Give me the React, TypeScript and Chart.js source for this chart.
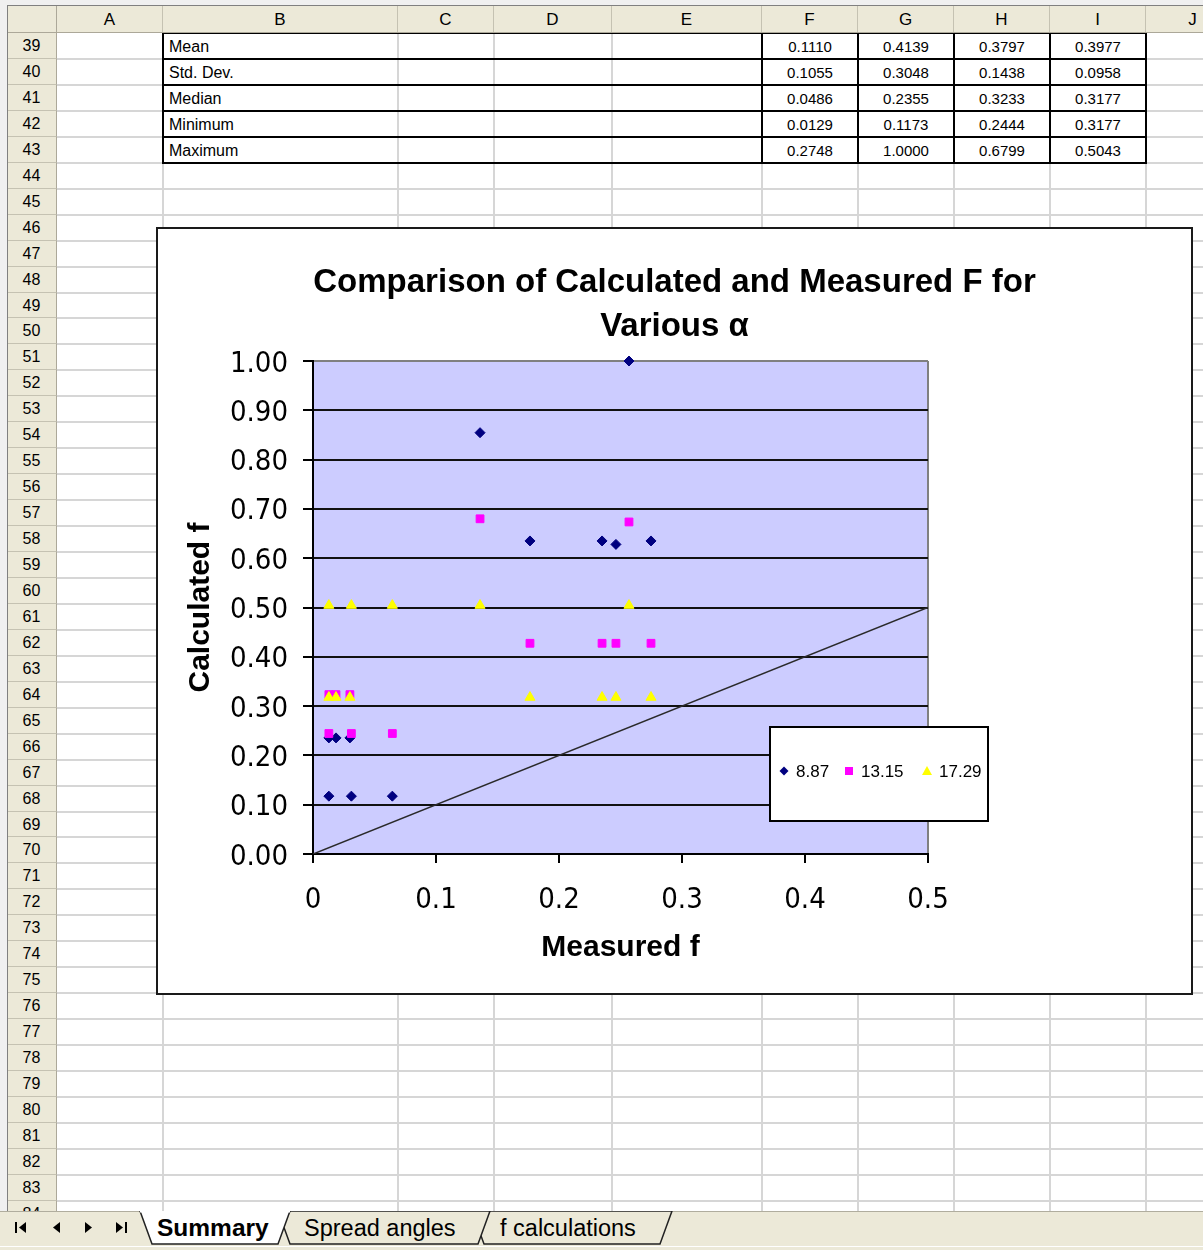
import React, { useEffect, useRef } from "react";
import { Chart, registerables } from "chart.js";

Chart.register(...registerables);

// ---------- chart data ----------
const seriesLabels = ["8.87", "13.15", "17.29"];
const measured887 = [0.0129, 0.0312, 0.0645, 0.0129, 0.0187, 0.03, 0.1358, 0.1764, 0.235, 0.2463, 0.2569, 0.2748];
const calculated887 = [0.1173, 0.1173, 0.1173, 0.2355, 0.2355, 0.2355, 0.8546, 0.635, 0.635, 0.628, 1.0, 0.635];
const measured1315 = [0.0129, 0.0312, 0.0645, 0.0129, 0.0187, 0.03, 0.1358, 0.1764, 0.235, 0.2463, 0.2569, 0.2748];
const calculated1315 = [0.2444, 0.2444, 0.2444, 0.3233, 0.3233, 0.3233, 0.6799, 0.4274, 0.4274, 0.4274, 0.6735, 0.4274];
const measured1729 = [0.0129, 0.0187, 0.03, 0.1764, 0.235, 0.2463, 0.2748, 0.0129, 0.0312, 0.0645, 0.1358, 0.2569];
const calculated1729 = [0.3177, 0.3177, 0.3177, 0.3177, 0.3177, 0.3177, 0.3177, 0.5043, 0.5043, 0.5043, 0.5043, 0.5043];
const equalityX = [0, 0.5];
const equalityY = [0, 0.5];
const xTicks = [0, 0.1, 0.2, 0.3, 0.4, 0.5];
const yTicks = [0, 0.1, 0.2, 0.3, 0.4, 0.5, 0.6, 0.7, 0.8, 0.9, 1.0];
const chartTitle = ["Comparison of Calculated and Measured F for", "Various \u03b1"];
const xTitle = "Measured f";
const yTitle = "Calculated f";

// ---------- sheet data ----------
const statNames = ["Mean", "Std. Dev.", "Median", "Minimum", "Maximum"];
const statF = ["0.1110", "0.1055", "0.0486", "0.0129", "0.2748"];
const statG = ["0.4139", "0.3048", "0.2355", "0.1173", "1.0000"];
const statH = ["0.3797", "0.1438", "0.3233", "0.2444", "0.6799"];
const statI = ["0.3977", "0.0958", "0.3177", "0.3177", "0.5043"];
const colLetters = ["A", "B", "C", "D", "E", "F", "G", "H", "I", "J"];
const sheetTabs = ["Summary", "Spread angles", "f calculations"];

// ---------- layout constants ----------
const colEdges = [57, 163, 398, 494, 612, 762, 858, 954, 1050, 1146, 1240];
const FIRST_ROW = 39;
const LAST_ROW = 84;
const ROW_H = 25.95;
const rowTop = (n: number) => 33 + (n - FIRST_ROW) * ROW_H;

const ARIAL = "'Liberation Sans', Arial, Helvetica, sans-serif";
const NARROW = "'DejaVu Sans Condensed', 'Liberation Sans Narrow', sans-serif";

const pts = (xs: number[], ys: number[]) => xs.map((x, i) => ({ x, y: ys[i] }));

const plotBgPlugin = {
  id: "plotBg",
  beforeDraw(chart: any) {
    const { ctx, chartArea } = chart;
    ctx.save();
    ctx.fillStyle = "#CCCCFF";
    ctx.fillRect(chartArea.left, chartArea.top, chartArea.width, chartArea.height);
    ctx.restore();
  },
};

const legendOffsets = [14, 79, 157];

const boxLegendPlugin = {
  id: "boxLegend",
  afterDraw(chart: any) {
    const { ctx, chartArea } = chart;
    const bx = chartArea.left + 457;
    const by = chartArea.top + 366;
    const bw = 218;
    const bh = 94;
    ctx.save();
    ctx.fillStyle = "#FFFFFF";
    ctx.fillRect(bx, by, bw, bh);
    ctx.lineWidth = 2;
    ctx.strokeStyle = "#000000";
    ctx.strokeRect(bx, by, bw, bh);
    const cy = by + 44;
    chart.data.datasets.slice(0, 3).forEach((ds: any, i: number) => {
      const mx = bx + legendOffsets[i];
      ctx.fillStyle = ds.backgroundColor;
      ctx.beginPath();
      if (ds.pointStyle === "rectRot") {
        ctx.moveTo(mx - 4.5, cy);
        ctx.lineTo(mx, cy - 4.5);
        ctx.lineTo(mx + 4.5, cy);
        ctx.lineTo(mx, cy + 4.5);
      } else if (ds.pointStyle === "rect") {
        ctx.rect(mx - 4, cy - 4, 8, 8);
      } else {
        ctx.moveTo(mx, cy - 5);
        ctx.lineTo(mx + 5, cy + 4);
        ctx.lineTo(mx - 5, cy + 4);
      }
      ctx.closePath();
      ctx.fill();
      ctx.fillStyle = "#000000";
      ctx.font = `17px ${ARIAL}`;
      ctx.textAlign = "left";
      ctx.textBaseline = "middle";
      ctx.fillText(ds.label, mx + 12, cy + 1);
    });
    ctx.restore();
  },
};

function ScatterChart() {
  const ref = useRef<HTMLCanvasElement | null>(null);
  useEffect(() => {
    if (!ref.current) return;
    const chart = new Chart(ref.current, {
      type: "scatter",
      data: {
        datasets: [
          {
            label: seriesLabels[0],
            data: pts(measured887, calculated887),
            pointStyle: "rectRot",
            pointRadius: 5,
            backgroundColor: "#000080",
            borderColor: "#000080",
            borderWidth: 1,
            clip: false,
            order: 3,
          },
          {
            label: seriesLabels[1],
            data: pts(measured1315, calculated1315),
            pointStyle: "rect",
            pointRadius: 5.5,
            backgroundColor: "#FF00FF",
            borderColor: "#FF00FF",
            borderWidth: 1,
            clip: false,
            order: 2,
          },
          {
            label: seriesLabels[2],
            data: pts(measured1729, calculated1729),
            pointStyle: "triangle",
            pointRadius: 5.8,
            backgroundColor: "#FFFF00",
            borderColor: "#FFFF00",
            borderWidth: 1,
            clip: false,
            order: 1,
          },
          {
            label: "y = x",
            data: pts(equalityX, equalityY),
            showLine: true,
            borderColor: "#2A2A2A",
            borderWidth: 1.6,
            pointRadius: 0,
            fill: false,
            order: 4,
          },
        ],
      } as any,
      options: {
        responsive: false,
        animation: false,
        events: [],
        layout: { padding: 0 },
        plugins: {
          legend: { display: false },
          tooltip: { enabled: false },
          title: {
            display: true,
            text: chartTitle,
            color: "#000000",
            font: { family: ARIAL, size: 33, weight: "bold", lineHeight: 44 / 33 },
            padding: { top: 32, bottom: 12 },
          },
        },
        scales: {
          x: {
            type: "linear",
            position: "bottom",
            min: 0,
            max: 0.5,
            afterBuildTicks: (s: any) => {
              s.ticks = xTicks.map((v) => ({ value: v }));
            },
            afterFit: (s: any) => {
              s.height = 139;
            },
            ticks: {
              autoSkip: false,
              maxRotation: 0,
              padding: 23,
              color: "#000000",
              font: { family: NARROW, size: 29, lineHeight: 1 },
              callback: (v: any) => String(+Number(v).toFixed(1)),
            },
            grid: {
              drawOnChartArea: true,
              color: (c: any) =>
                c.tick && Math.abs(c.tick.value - 0.5) < 1e-9 ? "#808080" : "rgba(0,0,0,0)",
              tickColor: "#000000",
              tickLength: 9,
              lineWidth: 2,
              tickWidth: 2,
            },
            border: { display: true, color: "#000000", width: 2 },
            title: {
              display: true,
              text: xTitle,
              color: "#000000",
              font: { family: ARIAL, size: 30, weight: "bold", lineHeight: 1.2 },
              padding: { top: 0, bottom: 27 },
            },
          },
          y: {
            type: "linear",
            position: "left",
            min: 0,
            max: 1,
            afterBuildTicks: (s: any) => {
              s.ticks = yTicks.map((v) => ({ value: v }));
            },
            afterFit: (s: any) => {
              s.width = 155;
            },
            ticks: {
              autoSkip: false,
              padding: 15,
              labelOffset: 3,
              color: "#000000",
              font: { family: NARROW, size: 29, lineHeight: 1 },
              callback: (v: any) => Number(v).toFixed(2),
            },
            grid: {
              color: (c: any) =>
                c.tick && Math.abs(c.tick.value - 1) < 1e-9 ? "#808080" : "#111111",
              tickColor: "#000000",
              tickLength: 10,
              lineWidth: 2,
              tickWidth: 2,
            },
            border: { display: true, color: "#000000", width: 2 },
            title: {
              display: true,
              text: yTitle,
              color: "#000000",
              font: { family: ARIAL, size: 30, weight: "bold", lineHeight: 1.2 },
              padding: { top: 25, bottom: 0 },
            },
          },
          spacer: {
            type: "linear",
            position: "right",
            display: true,
            ticks: { display: false },
            grid: { display: false },
            border: { display: false },
            afterFit: (s: any) => {
              s.width = 263;
            },
          },
        },
      } as any,
      plugins: [plotBgPlugin, boxLegendPlugin],
    });
    return () => chart.destroy();
  }, []);
  return (
    <canvas
      ref={ref}
      width={1033}
      height={764}
      style={{ position: "absolute", left: 0, top: 0, width: 1033, height: 764, display: "block" }}
    />
  );
}

const abs = (s: React.CSSProperties): React.CSSProperties => ({ position: "absolute", ...s });

export default function App() {
  const rows: number[] = [];
  for (let n = FIRST_ROW; n <= LAST_ROW; n++) rows.push(n);

  return (
    <div
      style={abs({
        left: 0,
        top: 0,
        width: 1203,
        height: 1250,
        overflow: "hidden",
        background: "#F0F0F0",
        fontFamily: ARIAL,
        fontSize: 15,
        color: "#000",
      })}
    >
      {/* sheet body */}
      <div style={abs({ left: 0, top: 0, width: 1203, height: 1211, overflow: "hidden" })}>
        <div style={abs({ left: 7, top: 5, width: 1196, height: 1206, background: "#FFFFFF" })} />
        {/* horizontal grid lines */}
        {rows.map((n) => (
          <div
            key={"h" + n}
            style={abs({ left: 57, top: Math.round(rowTop(n + 1)) - 1, width: 1146, height: 2, background: "#D6D6D6" })}
          />
        ))}
        {/* vertical grid lines */}
        {colEdges.slice(1).map((x, i) => (
          <div key={"v" + i} style={abs({ left: x - 1, top: 33, width: 2, height: 1180, background: "#D6D6D6" })} />
        ))}
        {/* row headers */}
        {rows.map((n) => (
          <div
            key={"r" + n}
            style={abs({
              left: 7,
              top: Math.round(rowTop(n)),
              width: 50,
              height: Math.round(rowTop(n + 1)) - Math.round(rowTop(n)),
              background: "#ECE9D8",
              borderBottom: "1px solid #C5C2B2",
              borderRight: "1px solid #ACA899",
              boxSizing: "border-box",
              textAlign: "center",
              lineHeight: "25px",
              fontSize: 16,
            })}
          >
            {n}
          </div>
        ))}
        {/* statistics table */}
        {statNames.map((name, i) => {
          const top = Math.round(rowTop(FIRST_ROW + i));
          const h = Math.round(rowTop(FIRST_ROW + i + 1)) - top;
          const vals = [statF[i], statG[i], statH[i], statI[i]];
          return (
            <React.Fragment key={"t" + i}>
              <div style={abs({ left: 169, top, height: h, lineHeight: h + 1 + "px", fontSize: 16 })}>{name}</div>
              {vals.map((v, j) => (
                <div
                  key={j}
                  style={abs({
                    left: colEdges[5 + j],
                    top,
                    width: colEdges[6 + j] - colEdges[5 + j],
                    height: h,
                    lineHeight: h + 1 + "px",
                    textAlign: "center",
                    fontSize: 15,
                  })}
                >
                  {v}
                </div>
              ))}
            </React.Fragment>
          );
        })}
        {[0, 1, 2, 3, 4, 5].map((k) => (
          <div
            key={"tb" + k}
            style={abs({ left: 163, top: Math.round(rowTop(FIRST_ROW + k)) - 1, width: 984, height: 2, background: "#000" })}
          />
        ))}
        {[163, 762, 858, 954, 1050, 1146].map((x) => (
          <div
            key={"tv" + x}
            style={abs({ left: x - 1, top: 33, width: 2, height: Math.round(rowTop(44)) - 32, background: "#000" })}
          />
        ))}
        {/* column header */}
        <div
          style={abs({
            left: 7,
            top: 5,
            width: 1196,
            height: 28,
            background: "#ECE9D8",
            borderTop: "1px solid #808080",
            borderBottom: "1px solid #ACA899",
            boxSizing: "border-box",
          })}
        />
        <div style={abs({ left: 7, top: 5, width: 1, height: 1206, background: "#808080" })} />
        <div style={abs({ left: 56, top: 6, width: 1, height: 27, background: "#ACA899" })} />
        {colLetters.map((L, i) => (
          <div
            key={L}
            style={abs({
              left: colEdges[i],
              top: 6,
              width: colEdges[i + 1] - colEdges[i],
              height: 26,
              borderRight: "1px solid #C5C2B2",
              boxSizing: "border-box",
              textAlign: "center",
              lineHeight: "28px",
              fontSize: 17,
            })}
          >
            {L}
          </div>
        ))}
        {/* chart object */}
        <div
          style={abs({
            left: 156,
            top: 227,
            width: 1037,
            height: 768,
            border: "2px solid #1A1A1A",
            boxSizing: "border-box",
            background: "#FFFFFF",
          })}
        >
          <ScatterChart />
        </div>
      </div>
      {/* sheet tab bar */}
      <div style={abs({ left: 0, top: 1211, width: 1203, height: 39, background: "#ECE9D8" })}>
        <div style={abs({ left: 0, top: 0, width: 1203, height: 1, background: "#B0AD9E" })} />
        <div style={abs({ left: 0, top: 35, width: 1203, height: 1, background: "#FFFFFF" })} />
        <svg width={1203} height={39} style={abs({ left: 0, top: 0 })}>
          <g fill="#000">
            <rect x={15} y={11} width={2} height={11} />
            <polygon points="26,11 26,22 19,16.5" />
            <polygon points="60,11 60,22 53,16.5" />
            <polygon points="85,11 85,22 92,16.5" />
            <polygon points="116,11 116,22 123,16.5" />
            <rect x={125} y={11} width={2} height={11} />
          </g>
          <polygon points="472,0 672,0 660,33 484,33" fill="#ECE9D8" stroke="#222" strokeWidth={1.5} />
          <polygon points="278,0 490,0 478,33 290,33" fill="#ECE9D8" stroke="#222" strokeWidth={1.5} />
          <polygon points="140,0 290,0 278,33 152,33" fill="#FFFFFF" stroke="#222" strokeWidth={1.5} />
          <line x1={140} y1={0.5} x2={290} y2={0.5} stroke="#FFFFFF" strokeWidth={2} />
          <text x={157} y={25} fontFamily={ARIAL} fontSize={24.5} fontWeight="bold" fill="#000">
            {sheetTabs[0]}
          </text>
          <text x={304} y={25} fontFamily={ARIAL} fontSize={23.5} fill="#000">
            {sheetTabs[1]}
          </text>
          <text x={500} y={25} fontFamily={ARIAL} fontSize={23.5} fill="#000">
            {sheetTabs[2]}
          </text>
        </svg>
      </div>
    </div>
  );
}
